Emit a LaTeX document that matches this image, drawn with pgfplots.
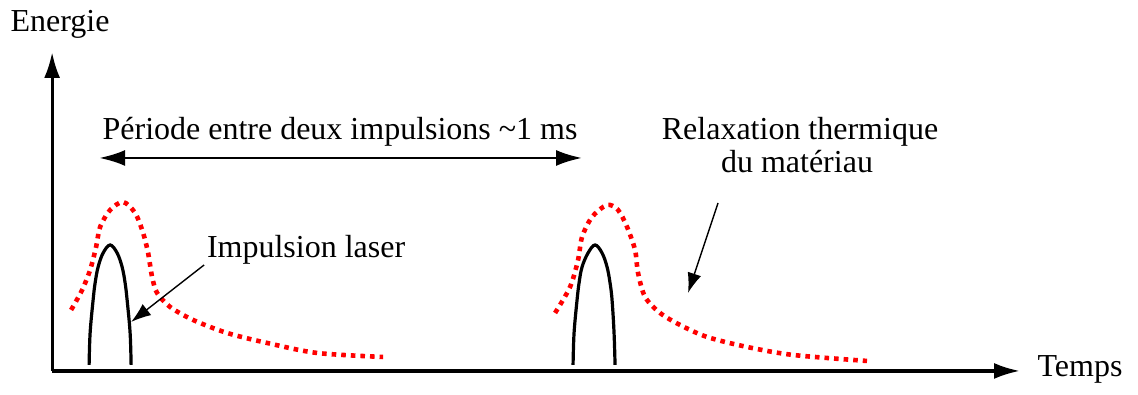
\documentclass[border=0pt]{standalone}
\usepackage{pgfplots}
\pgfplotsset{compat=1.18}
\usepackage{pgfplotstable}
\usepackage{fontspec}
\setmainfont{Liberation Serif}
\usetikzlibrary{arrows.meta}

% pixel-like coordinates: x = px, y = 389 - py
\pgfplotstableread{
x y
89 24
90 56
93 89
95 106
98 122
103 136
110 144
117 136
122 122
125 106
127 89
130 56
131 24
}\pulseA
\pgfplotstableread{
x y
573 24
574 56
577 89
579 106
582 122
588 136
595 144
602 136
607 122
610 106
612 89
614 56
615 24
}\pulseB
\pgfplotstableread{
x y
71 79
82 99
90 119
96 142
100 162
110 179
123 187
135 176
143 156
148 136
152 112
157 96
170 82
193 69
227 56
267 46
317 36
383 32
}\relaxA
\pgfplotstableread{
x y
555 76
570 102
578 129
582 152
592 172
607 184
618 179
627 162
635 139
638 116
645 92
660 76
680 64
707 52
747 42
793 34
867 28
}\relaxB

\begin{document}
\fontsize{16}{19}\selectfont
\begin{tikzpicture}
\begin{axis}[
    scale only axis,
    width=484pt, height=159.5pt,
    xmin=52, xmax=1020, ymin=18, ymax=337,
    axis lines=left,
    axis line style={line width=1.6pt, -{Latex[length=13pt,width=8pt]}},
    xtick=\empty, ytick=\empty,
    clip=false,
]
\path (axis cs:0,0) rectangle (axis cs:1138,389);

\addplot[red, line width=2.3pt, dash pattern=on 2.3pt off 2.5pt, smooth, tension=0.5] table {\relaxA};
\addplot[red, line width=2.3pt, dash pattern=on 2.3pt off 2.5pt, smooth, tension=0.5] table {\relaxB};
\addplot[black, line width=1.6pt, smooth, tension=0.6] table {\pulseA};
\addplot[black, line width=1.6pt, smooth, tension=0.6] table {\pulseB};

% double arrow (period)
\addplot[black, line width=1.3pt, {Latex[length=13pt,width=8pt]}-{Latex[length=13pt,width=8pt]}] coordinates {(99,231) (582,231)};
% annotation arrows
\addplot[black, line width=0.7pt, -{Latex[length=10pt,width=7pt]}] coordinates {(204,124) (131,67)};
\addplot[black, line width=0.7pt, -{Latex[length=10pt,width=7pt]}] coordinates {(718,186) (688,96)};

\node[anchor=base] at (axis cs:60,357) {Energie};
\node[anchor=base] at (axis cs:1080,12) {Temps};
\node[anchor=base] at (axis cs:340,249) {Période entre deux impulsions \textasciitilde1 ms};
\node[anchor=base] at (axis cs:800,249) {Relaxation thermique};
\node[anchor=base] at (axis cs:797,216) {du matériau};
\node[anchor=base] at (axis cs:306,131) {Impulsion laser};
\end{axis}
\end{tikzpicture}
\end{document}
